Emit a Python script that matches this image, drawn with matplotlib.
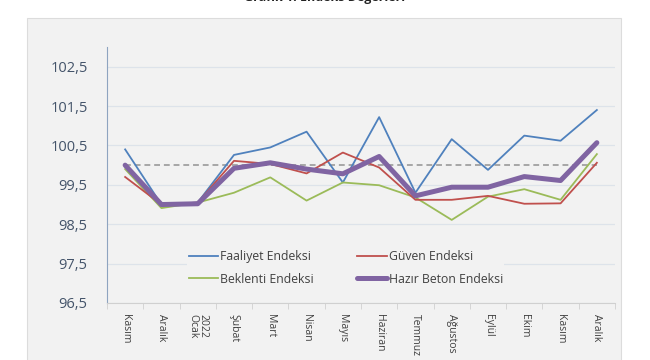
import matplotlib.pyplot as plt
from matplotlib.patches import Rectangle
import numpy as np

plt.rcParams['font.family'] = ['Open Sans', 'DejaVu Sans']

# aylar (Kasim 2021 - Aralik 2022)
aylar = ['Kasım', 'Aralık', '2022\nOcak', 'Şubat', 'Mart', 'Nisan', 'Mayıs',
         'Haziran', 'Temmuz', 'Ağustos', 'Eylül', 'Ekim', 'Kasım', 'Aralık']

faaliyet = [100.40, 99.00, 99.05, 100.26, 100.45, 100.85, 99.56,
            101.22, 99.30, 100.66, 99.88, 100.75, 100.62, 101.40]
guven = [99.70, 99.00, 99.05, 100.11, 100.03, 99.79, 100.32,
         99.94, 99.12, 99.12, 99.22, 99.02, 99.03, 100.06]
beklenti = [99.90, 98.91, 99.05, 99.30, 99.69, 99.10, 99.56,
            99.49, 99.18, 98.61, 99.20, 99.39, 99.12, 100.28]
hazir_beton = [100.00, 99.00, 99.02, 99.92, 100.06, 99.90, 99.78,
               100.22, 99.22, 99.44, 99.44, 99.71, 99.61, 100.57]
esik = 100.0

x = np.arange(len(aylar))

fig = plt.figure(figsize=(6.5, 3.6), dpi=100)
fig.patch.set_facecolor('white')
fig.patches.append(Rectangle((27 / 650, -0.01), 594 / 650, 1 - 18 / 360 + 0.01,
                             transform=fig.transFigure, facecolor='#f2f2f2',
                             edgecolor='#dcdcdc', linewidth=0.8, zorder=-5))

fig.text(0.5, 1 + 2 / 360, 'Grafik 1: Endeks Değerleri', ha='center', va='center',
         fontsize=9, fontweight='bold', color='#222222')

ax = fig.add_axes([107 / 650, 1 - 303 / 360, 508 / 650, 256 / 360])
ax.set_facecolor('#f2f2f2')

ax.plot(x, [esik] * len(x), color='#a6a6a6', linestyle=(0, (3, 2)), linewidth=1.4, zorder=2)
ax.plot(x, faaliyet, color='#4f81bd', linewidth=1.3, label='Faaliyet Endeksi', zorder=3)
ax.plot(x, beklenti, color='#9bbb59', linewidth=1.3, label='Beklenti Endeksi', zorder=3)
ax.plot(x, guven, color='#c0504d', linewidth=1.3, label='Güven Endeksi', zorder=3)
ax.plot(x, hazir_beton, color='#8064a2', linewidth=3.6, label='Hazır Beton Endeksi',
        solid_capstyle='round', zorder=4)

ax.set_xlim(-0.5, len(x) - 0.5)
ax.set_ylim(96.5, 103.0)
yt = np.arange(96.5, 103.0, 1.0)
ax.set_yticks(yt)
ax.set_yticklabels([f'{v:.1f}'.replace('.', ',') for v in yt])
ax.grid(axis='y', color='#dde3ea', linewidth=0.9, zorder=1)
ax.set_axisbelow(True)

ax.set_xticks(x)
ax.set_xticklabels(aylar, rotation=-90, fontsize=7.5, color='#404040', va='top',
                   linespacing=0.9)
ax.set_xticks(np.arange(-0.5, len(x), 1.0), minor=True)
ax.tick_params(axis='x', which='major', length=0, pad=8)
ax.tick_params(axis='x', which='minor', length=4, color='#d0d0d0')
ax.tick_params(axis='y', length=0, labelsize=10.5, labelcolor='#44546a', pad=14)

for s in ['top', 'right']:
    ax.spines[s].set_visible(False)
ax.spines['left'].set_color('#8ea4c0')
ax.spines['bottom'].set_color('#d0d0d0')

leg = ax.legend(ncol=2, loc='center', bbox_to_anchor=(0.47, 0.137), frameon=True,
                fontsize=8.8, handlelength=2.4, handletextpad=0.15, columnspacing=3.6,
                labelspacing=0.75, borderpad=0.1)
leg.get_frame().set_facecolor('#f2f2f2')
leg.get_frame().set_edgecolor('none')
leg.get_frame().set_alpha(1)
for t in leg.get_texts():
    t.set_color('#404040')

fig.savefig('out.png', dpi=100, facecolor=fig.get_facecolor())
